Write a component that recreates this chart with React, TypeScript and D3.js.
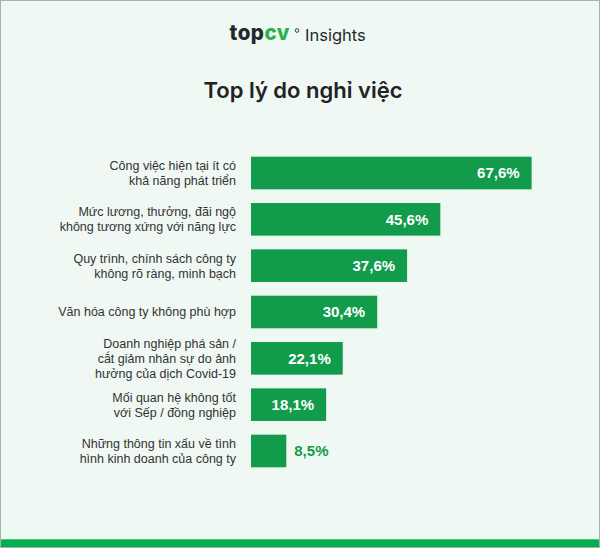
import React from "react";
import * as d3 from "d3";

const categories: string[][] = [
  ["Công việc hiện tại ít có", "khả năng phát triển"],
  ["Mức lương, thưởng, đãi ngộ", "không tương xứng với năng lực"],
  ["Quy trình, chính sách công ty", "không rõ ràng, minh bạch"],
  ["Văn hóa công ty không phù hợp"],
  ["Doanh nghiệp phá sản /", "cắt giảm nhân sự do ảnh", "hưởng của dịch Covid-19"],
  ["Mối quan hệ không tốt", "với Sếp / đồng nghiệp"],
  ["Những thông tin xấu về tình", "hình kinh doanh của công ty"],
];
const values: number[] = [67.6, 45.6, 37.6, 30.4, 22.1, 18.1, 8.5];

const W = 600;
const H = 548;
const GREEN = "#129b4b";
const vi = d3.formatLocale({ decimal: ",", thousands: ".", grouping: [3], currency: ["", ""] });
const fmt = vi.format(".1f");

export default function App() {
  const ids = categories.map((_, i) => String(i));
  const y = d3.scaleBand<string>().domain(ids).range([156.7, 467.3]).paddingInner(0.296).paddingOuter(0);
  const x = d3.scaleLinear().domain([0, 70]).range([251, 541.6]);
  return (
    <div>
      <style>{`body{margin:0}`}</style>
      <svg width={W} height={H} style={{ display: "block" }}>
        <rect x={0} y={0} width={W} height={H} fill="#adadad" />
        <rect x={1} y={1} width={W - 2} height={H - 2} fill="#eff8f3" />
        <rect x={1} y={520} width={W - 2} height={19} fill="#ecfaf3" />
        <rect x={1} y={539.3} width={W - 2} height={7.7} fill="#00af50" />
        {/* logo */}
        <text x={229.5} y={40} fontFamily="Inter, sans-serif" fontWeight={800} fontSize={20.5} letterSpacing={0.5}>
          <tspan fill="#1e2a2e">top</tspan>
          <tspan fill="#2bb34a">cv</tspan>
        </text>
        <circle cx={297} cy={30.5} r={1.8} fill="none" stroke="#1e2a2e" strokeWidth={0.9} />
        <text x={305} y={40.5} fontFamily="Inter, sans-serif" fontWeight={400} fontSize={16.5} fill="#1e2a2e">
          Insights
        </text>
        {/* title */}
        <text x={W / 2 + 3} y={97.5} textAnchor="middle" fontFamily="Inter, sans-serif" fontWeight={600} fontSize={22} fill="#222">
          Top lý do nghỉ việc
        </text>
        {categories.map((lines, i) => {
          const yc = (y(String(i)) as number) + y.bandwidth() / 2;
          const lh = 15;
          const y0 = yc - ((lines.length - 1) * lh) / 2;
          return (
            <text key={"l" + i} textAnchor="end" fontFamily="'Liberation Sans', Arial, sans-serif" fontSize={12.5} fill="#333">
              {lines.map((ln, j) => (
                <tspan key={j} x={236} y={y0 + j * lh} dy="0.35em">
                  {ln}
                </tspan>
              ))}
            </text>
          );
        })}
        {values.map((v, i) => {
          const yb = y(String(i)) as number;
          const inside = v > 12;
          return (
            <g key={"b" + i}>
              <rect x={x(0)} y={yb} width={x(v) - x(0)} height={y.bandwidth()} fill={GREEN} />
              <text
                x={inside ? x(v) - 12 : x(v) + 8}
                y={yb + y.bandwidth() / 2}
                dy="0.36em"
                textAnchor={inside ? "end" : "start"}
                fontFamily="'Liberation Sans', Arial, sans-serif"
                fontWeight={700}
                fontSize={15}
                fill={inside ? "#ffffff" : GREEN}
              >
                {fmt(v) + "%"}
              </text>
            </g>
          );
        })}
      </svg>
    </div>
  );
}
